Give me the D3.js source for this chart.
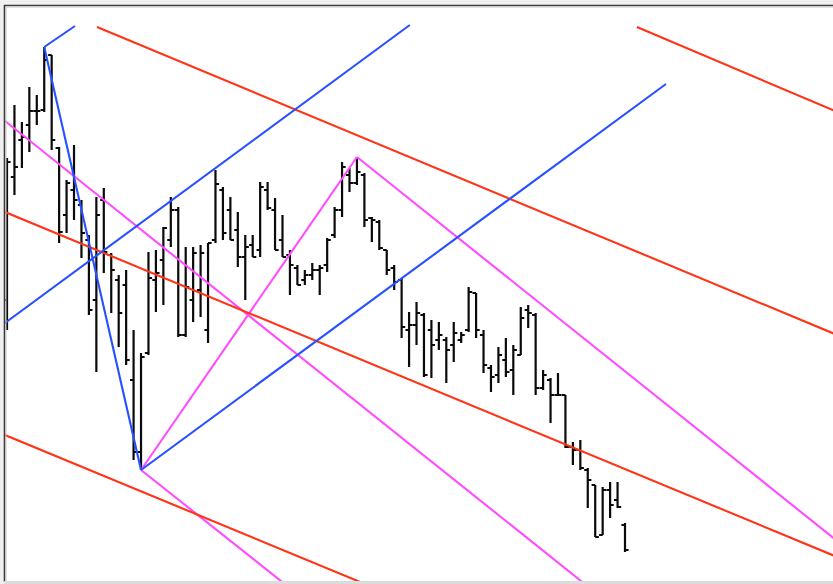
<!DOCTYPE html>
<html>
<head>
<meta charset="utf-8">
<script src="https://cdn.jsdelivr.net/npm/d3@7"></script>
<style>
html,body{margin:0;padding:0;background:#ffffff;overflow:hidden;}
svg{display:block;}
</style>
</head>
<body>
<svg id="chart" width="833" height="584"></svg>
<script>
// ---- data (bar index, prices) ----
const opens  = [78.4,90.7,94.4,95.9,97.3,97.4,102.9,93.6,86.9,89.4,87.9,84.4,78.4,88.4,82.9,80.4,79.9,70.4,63.2,73.1,
                80.4,82.4,84.4,87.4,74.9,78.4,79.4,75.4,84.4,89.4,87.4,85.4,82.7,83.9,83.4,89.4,87.4,84.4,82.9,81.6,
                80.4,80.9,81.4,81.9,84.9,87.4,90.9,90.1,90.9,86.6,86.2,83.4,81.6,80.4,75.4,75.9,76.9,75.4,74.4,74.4,
                73.9,74.4,75.4,79.1,74.9,71.6,70.9,72.4,71.4,72.9,77.4,76.9,69.6,70.4,68.9,68.9,63.7,63.4,61.4,59.9,
                54.9,59.4,58.4,55.9];
const highs  = [92.6,97.9,96.2,99.7,98.9,103.7,102.9,93.7,90.4,93.9,88.4,84.9,88.7,89.6,83.1,80.9,81.4,75.4,73.1,83.2,
                83.4,85.7,88.7,87.7,83.7,83.7,83.9,84.1,91.4,89.7,88.7,87.2,84.9,84.9,90.2,90.2,88.6,86.9,83.4,81.9,
                81.4,82.1,81.9,84.6,87.7,92.2,91.6,92.7,91.1,86.7,86.4,83.4,81.9,80.6,77.2,78.2,77.1,76.4,76.2,74.7,
                76.2,75.2,79.7,79.1,75.4,71.9,73.7,74.6,73.9,77.7,77.9,77.1,71.4,70.6,71.1,68.9,64.2,64.4,61.6,59.9,
                59.7,60.2,60.2,56.1];
const lows   = [75.4,88.9,91.6,93.2,95.9,97.2,93.4,84.1,85.1,86.4,82.6,76.9,71.2,81.1,77.1,73.7,71.9,62.4,61.4,72.9,
                77.2,77.9,83.7,74.7,74.7,76.2,76.7,74.1,84.1,84.4,84.4,81.7,78.4,82.7,82.7,87.4,83.4,82.7,78.9,79.9,
                79.9,80.4,78.9,81.2,84.6,86.7,89.2,89.9,85.7,84.2,83.4,80.9,79.4,74.6,71.7,73.9,70.7,70.6,73.4,70.1,
                72.2,74.1,75.2,74.6,71.1,69.2,70.1,70.7,68.9,72.9,75.6,68.9,69.4,66.1,68.9,63.6,61.9,61.4,57.6,54.7,
                54.9,56.6,57.6,53.2];
const closes = [92.2,91.7,94.7,97.3,97.3,102.4,94.4,85.2,90.1,88.4,85.1,77.4,86.9,83.2,81.4,77.1,72.4,63.2,72.7,80.6,
                81.1,85.6,87.4,74.9,79.7,83.1,83.1,84.1,90.0,85.1,84.4,82.7,83.7,82.7,89.7,87.6,83.4,82.7,81.9,79.9,
                80.9,81.4,81.6,84.4,87.4,91.7,90.1,91.2,86.4,86.4,83.6,81.4,80.2,75.7,75.9,77.1,70.9,73.9,74.9,73.4,
                75.1,74.9,79.2,75.4,71.9,70.7,72.9,71.2,73.4,76.6,77.1,69.6,70.9,68.9,68.9,63.7,63.4,61.6,60.4,54.7,
                59.4,57.9,57.7,53.4];

// trend-line segments: [[barIndex, price], [barIndex, price]]
const blueLines = [
  [[5, 103.7], [18, 61.4]],
  [[5, 103.7], [9.13, 105.8]],
  [[-0.27, 76.1], [54.1, 105.9]],
  [[18, 61.4], [88.5, 100.0]]
];
const redLines = [
  [[12.09, 105.7], [111.5, 74.9]],
  [[84.6, 105.7], [111.5, 97.2]],
  [[-0.27, 87.2], [111.5, 52.7]],
  [[-0.27, 64.9], [48.08, 50.0]]
];
const magentaLines = [
  [[18, 61.4], [47, 92.7]],
  [[47, 92.7], [111.5, 54.3]],
  [[-0.27, 96.3], [77.6, 50.0]],
  [[18, 61.4], [37.3, 50.0]]
];

// ---- drawing ----
const W = 833, H = 584;
const svg = d3.select("#chart");
const bars = opens.map((o, i) => ({i, o, h: highs[i], l: lows[i], c: closes[i]}));

const x = d3.scaleLinear().domain([0, 83]).range([7, 625]);
const y = d3.scaleLinear().domain([50, 108.4]).range([584, 0]);

// frame
svg.append("rect").attr("x", 0).attr("y", 0).attr("width", W).attr("height", H).attr("fill", "#f0f0f0");
svg.append("rect").attr("x", 4).attr("y", 5).attr("width", W - 4).attr("height", 577).attr("fill", "#ffffff");

svg.append("defs").append("clipPath").attr("id", "plotclip")
  .append("rect").attr("x", 5).attr("y", 6).attr("width", W - 5).attr("height", 575);

const g = svg.append("g").attr("clip-path", "url(#plotclip)");

// OHLC bars
g.append("g").selectAll("path").data(bars).join("path")
  .attr("d", d => {
    const cx = x(d.i);
    return `M${cx},${y(d.h)}V${y(d.l)}M${cx - 3.6},${y(d.o)}H${cx}M${cx},${y(d.c)}H${cx + 3.6}`;
  })
  .attr("fill", "none")
  .attr("stroke", "#0a0a0a")
  .attr("stroke-width", 2.2);

// trend lines
const line = d3.line().x(p => x(p[0])).y(p => y(p[1]));
function drawLines(arr, color) {
  g.append("g").selectAll("path").data(arr).join("path")
    .attr("d", line)
    .attr("fill", "none")
    .attr("stroke", color)
    .attr("stroke-width", 2.1);
}
drawLines(magentaLines, "#ff4cff");
drawLines(redLines, "#ff3318");
drawLines(blueLines, "#2850ff");

// border lines
svg.append("line").attr("x1", 4).attr("y1", 5.5).attr("x2", W).attr("y2", 5.5).attr("stroke", "#3a3a3a").attr("stroke-width", 1.6);
svg.append("line").attr("x1", 4.5).attr("y1", 5).attr("x2", 4.5).attr("y2", 582).attr("stroke", "#3a3a3a").attr("stroke-width", 1.6);
svg.append("line").attr("x1", 6).attr("y1", 7).attr("x2", W).attr("y2", 7).attr("stroke", "#c8c8c8").attr("stroke-width", 1);
svg.append("line").attr("x1", 6).attr("y1", 7).attr("x2", 6).attr("y2", 581).attr("stroke", "#c8c8c8").attr("stroke-width", 1);
svg.append("rect").attr("x", 4).attr("y", 581).attr("width", W - 4).attr("height", 3).attr("fill", "#dcdcdc");
</script>
</body>
</html>
